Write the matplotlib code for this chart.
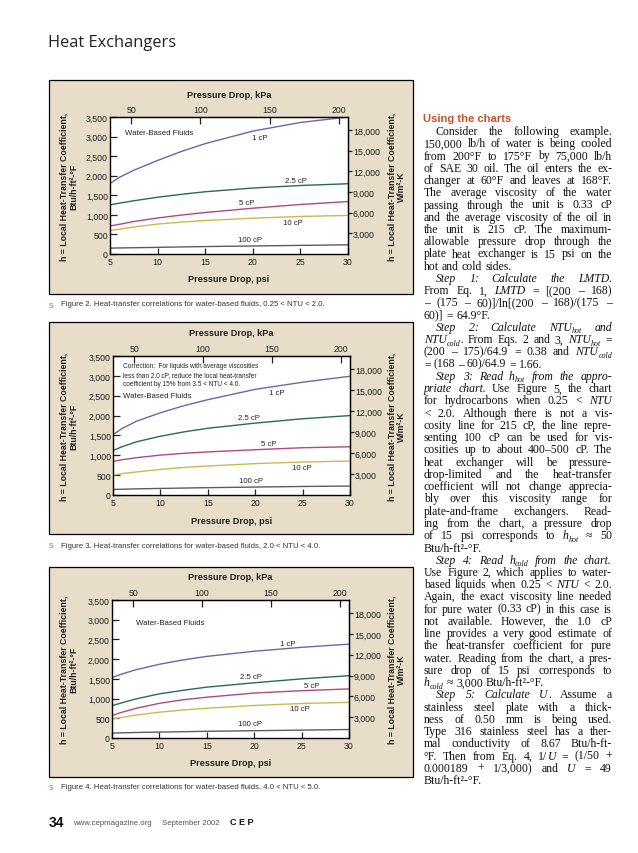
import matplotlib
matplotlib.use("Agg")
import matplotlib.pyplot as plt
from matplotlib.patches import Rectangle
from matplotlib.ticker import FuncFormatter

# ---- values (h in Btu/h-ft2-F vs pressure drop in psi) ----
PSI = [5, 6, 7.5, 10, 12.5, 15, 20, 25, 30]
VISC_LABELS = ["1 cP", "2.5 cP", "5 cP", "10 cP", "100 cP"]

# Figure 2: 0.25 < NTU < 2.0
FIG2_1CP = [1800, 1960, 2140, 2390, 2620, 2820, 3140, 3360, 3500]
FIG2_2_5CP = [1255, 1300, 1360, 1450, 1525, 1590, 1685, 1750, 1795]
FIG2_5CP = [715, 760, 830, 920, 995, 1060, 1170, 1265, 1340]
FIG2_10CP = [600, 635, 690, 765, 815, 855, 915, 960, 985]
FIG2_100CP = [150, 155, 160, 170, 180, 190, 205, 220, 235]

# Figure 3: 2.0 < NTU < 4.0
FIG3_1CP = [1520, 1680, 1860, 2070, 2250, 2400, 2660, 2840, 2990]
FIG3_2_5CP = [1120, 1220, 1340, 1480, 1590, 1680, 1810, 1920, 2000]
FIG3_5CP = [845, 890, 940, 1005, 1050, 1085, 1140, 1190, 1215]
FIG3_10CP = [500, 540, 580, 645, 695, 730, 790, 830, 855]
FIG3_100CP = [140, 145, 155, 165, 175, 185, 200, 215, 225]

# Figure 4: 4.0 < NTU < 5.0
FIG4_1CP = [1530, 1620, 1730, 1870, 1980, 2070, 2200, 2300, 2380]
FIG4_2_5CP = [820, 890, 990, 1120, 1210, 1290, 1400, 1500, 1580]
FIG4_5CP = [570, 650, 750, 880, 970, 1035, 1140, 1200, 1245]
FIG4_10CP = [485, 520, 580, 655, 710, 755, 825, 875, 905]
FIG4_100CP = [125, 130, 140, 150, 160, 170, 185, 200, 215]

PSI_TICKS = [5, 10, 15, 20, 25, 30]
BTU_TICKS = [0, 500, 1000, 1500, 2000, 2500, 3000, 3500]
KPA_TICKS = [50, 100, 150, 200]
WM2K_TICKS = [3000, 6000, 9000, 12000, 15000, 18000]

KPA_PER_PSI = 6.894757
WM2K_PER_BTU = 5.678263

CURVE_COLORS = ["#6b66a6", "#2b6b52", "#b04a7a", "#c9b94f", "#5c5c5c"]
BEIGE = "#e7ddc9"
SANS = ["Liberation Sans", "DejaVu Sans"]
NARROW = ["Liberation Sans Narrow", "Liberation Sans", "DejaVu Sans"]
SERIF = ["Liberation Serif", "DejaVu Serif"]

W, H = 638, 854
fig = plt.figure(figsize=(W / 100, H / 100), dpi=100)


def fx(px):
    return px / W


def fy(py):
    return 1 - py / H


comma = FuncFormatter(lambda v, _: f"{v:,.0f}")


def draw_chart(panel, box, curves, label_pos, caption, caption_y, notes):
    px0, py0, px1, py1 = panel
    fig.patches.append(Rectangle((fx(px0), fy(py1)), (px1 - px0) / W, (py1 - py0) / H,
                                 transform=fig.transFigure, facecolor=BEIGE,
                                 edgecolor="black", lw=0.9, zorder=-5))
    l, t, r, b = box
    ax = fig.add_axes([fx(l), fy(b), (r - l) / W, (b - t) / H])
    for vals, col in zip(curves, CURVE_COLORS):
        ax.plot(PSI, vals, color=col, lw=1.0)
    for name, (xx, yy) in zip(VISC_LABELS, label_pos):
        ax.text(xx, yy, name, fontsize=5.6, family=SANS, color="#222222",
                ha="center", va="center")
    for (xx, yy, txt, fs) in notes:
        ax.text(xx, yy, txt, fontsize=fs, family=NARROW, color="#222222",
                ha="left", va="center")

    ax.set_xlim(5, 30)
    ax.set_ylim(0, 3500)
    ax.set_xticks(PSI_TICKS)
    ax.set_yticks(BTU_TICKS)
    ax.yaxis.set_major_formatter(comma)
    ax.tick_params(axis="x", direction="in", length=4, width=0.9, pad=2.5,
                   labelsize=6.3, colors="#222222")
    ax.tick_params(axis="y", direction="in", length=5, width=0.9, pad=1.5,
                   labelsize=6.3, colors="#222222")
    for lab in ax.get_xticklabels() + ax.get_yticklabels():
        lab.set_family(SANS)
    for sp in ax.spines.values():
        sp.set_linewidth(1.0)

    top = ax.secondary_xaxis("top", functions=(lambda p: p * KPA_PER_PSI,
                                               lambda k: k / KPA_PER_PSI))
    top.set_xticks(KPA_TICKS)
    top.tick_params(direction="in", length=5, width=0.9, pad=2.5, labelsize=6.3,
                    colors="#222222")
    right = ax.secondary_yaxis("right", functions=(lambda v: v * WM2K_PER_BTU,
                                                   lambda v: v / WM2K_PER_BTU))
    right.set_yticks(WM2K_TICKS)
    right.yaxis.set_major_formatter(comma)
    right.tick_params(direction="out", length=3, width=0.9, pad=0.5, labelsize=6.3,
                      colors="#222222")
    for lab in top.get_xticklabels() + right.get_yticklabels():
        lab.set_family(SANS)

    cx = (l + r) / 2
    cy = (t + b) / 2
    fig.text(fx(cx), fy(t - 23), "Pressure Drop, kPa", fontsize=6.6, fontweight="bold",
             family=SANS, ha="center", va="center", color="#222222")
    fig.text(fx(cx), fy(b + 25), "Pressure Drop, psi", fontsize=6.6, fontweight="bold",
             family=SANS, ha="center", va="center", color="#222222")
    fig.text(fx(69), fy(cy), "h = Local Heat-Transfer Coefficient,\nBtu/h-ft²-°F",
             rotation=90, fontsize=6.3, fontweight="bold", family=SANS, ha="center",
             va="center", linespacing=1.1, color="#222222")
    fig.text(fx(397), fy(cy), "h = Local Heat-Transfer Coefficient,\nW/m²-K",
             rotation=90, fontsize=6.3, fontweight="bold", family=SANS, ha="center",
             va="center", linespacing=1.1, color="#222222")

    fig.text(fx(49), fy(caption_y), "s", fontsize=6.5, family=SANS, color="#d0702a",
             ha="left", va="center")
    fig.text(fx(61), fy(caption_y), caption, fontsize=5.6, family=NARROW,
             color="#333333", ha="left", va="center")
    return ax


draw_chart((49, 81, 413, 295), (110, 118, 348, 255),
           [FIG2_1CP, FIG2_2_5CP, FIG2_5CP, FIG2_10CP, FIG2_100CP],
           [(20.7, 2975), (24.5, 1890), (19.4, 1320), (24.2, 815), (19.7, 365)],
           "Figure 2. Heat-transfer correlations for water-based fluids, 0.25 < NTU < 2.0.",
           305, [(6.6, 3100, "Water-Based Fluids", 5.6)])

draw_chart((49, 323, 413, 535), (113, 357, 350, 496),
           [FIG3_1CP, FIG3_2_5CP, FIG3_5CP, FIG3_10CP, FIG3_100CP],
           [(22.3, 2577), (19.3, 1947), (21.4, 1301), (24.9, 688), (19.6, 369)],
           "Figure 3. Heat-transfer correlations for water-based fluids, 2.0 < NTU < 4.0.",
           546, [(6.1, 3265, "Correction:  For liquids with average viscosities", 4.7),
                 (6.1, 3030, "less than 2.0 cP, reduce the local heat-transfer", 4.7),
                 (6.1, 2803, "coefficient by 15% from 3.5 < NTU < 4.0.", 4.7),
                 (6.1, 2493, "Water-Based Fluids", 5.6)])

draw_chart((49, 568, 413, 778), (112, 601, 349, 739),
           [FIG4_1CP, FIG4_2_5CP, FIG4_5CP, FIG4_10CP, FIG4_100CP],
           [(23.5, 2398), (19.7, 1565), (26.1, 1329), (24.8, 740), (19.6, 362)],
           "Figure 4. Heat-transfer correlations for water-based fluids, 4.0 < NTU < 5.0.",
           788, [(7.5, 2928, "Water-Based Fluids", 5.6)])

# ---- page header and footer ----
fig.text(fx(48), fy(43), "Heat Exchangers", fontsize=11.8, family=["Open Sans", "DejaVu Sans"],
         color="#222222", ha="left", va="center")
fig.text(fx(49), fy(827), "34", fontsize=10, fontweight="bold", family=SANS,
         color="#111111", ha="left", va="baseline")
fig.text(fx(73), fy(825), "www.cepmagazine.org", fontsize=5.6, family=NARROW,
         color="#555555", ha="left", va="baseline")
fig.text(fx(162), fy(825), "September 2002", fontsize=5.6, family=NARROW,
         color="#555555", ha="left", va="baseline")
fig.text(fx(230), fy(825), "C E P", fontsize=6.5, fontweight="bold", family=SANS,
         color="#111111", ha="left", va="baseline")

# ---- right-hand text column ----
# markup: "~" toggles italics, "_{...}" is a subscript
COL_L, COL_R, INDENT = 424, 612, 12
BODY_FS = 8.5
LINE_H = 12.25
FIRST_BASE = 135
MIN_GAP = 1.8

BODY = [
    (1, 1, "Consider the following example."),
    (0, 1, "150,000 lb/h of water is being cooled"),
    (0, 1, "from 200°F to 175°F by 75,000 lb/h"),
    (0, 1, "of SAE 30 oil. The oil enters the ex-"),
    (0, 1, "changer at 60°F and leaves at 168°F."),
    (0, 1, "The average viscosity of the water"),
    (0, 1, "passing through the unit is 0.33 cP"),
    (0, 1, "and the average viscosity of the oil in"),
    (0, 1, "the unit is 215 cP. The maximum-"),
    (0, 1, "allowable pressure drop through the"),
    (0, 1, "plate heat exchanger is 15 psi on the"),
    (0, 0, "hot and cold sides."),
    (1, 1, "~Step ~1: ~Calculate ~the ~LMTD."),
    (0, 1, "From Eq. 1, ~LMTD = [(200 – 168)"),
    (0, 1, "– (175 – 60)]/ln[(200 – 168)/(175 –"),
    (0, 0, "60)] = 64.9°F."),
    (1, 1, "~Step ~2: ~Calculate ~NTU_{hot} ~and"),
    (0, 1, "~NTU_{cold}. From Eqs. 2 and 3, ~NTU_{hot} ="),
    (0, 1, "(200 – 175)/64.9 = 0.38 and ~NTU_{cold}"),
    (0, 0, "= (168 – 60)/64.9 = 1.66."),
    (1, 1, "~Step ~3: ~Read ~h_{hot} ~from ~the ~appro-"),
    (0, 1, "~priate ~chart. Use Figure 5, the chart"),
    (0, 1, "for hydrocarbons when 0.25 < ~NTU"),
    (0, 1, "< 2.0. Although there is not a vis-"),
    (0, 1, "cosity line for 215 cP, the line repre-"),
    (0, 1, "senting 100 cP can be used for vis-"),
    (0, 1, "cosities up to about 400–500 cP. The"),
    (0, 1, "heat exchanger will be pressure-"),
    (0, 1, "drop-limited and the heat-transfer"),
    (0, 1, "coefficient will not change apprecia-"),
    (0, 1, "bly over this viscosity range for"),
    (0, 1, "plate-and-frame exchangers. Read-"),
    (0, 1, "ing from the chart, a pressure drop"),
    (0, 1, "of 15 psi corresponds to ~h_{hot} ≈ 50"),
    (0, 0, "Btu/h-ft²-°F."),
    (1, 1, "~Step ~4: ~Read ~h_{cold} ~from ~the ~chart."),
    (0, 1, "Use Figure 2, which applies to water-"),
    (0, 1, "based liquids when 0.25 < ~NTU < 2.0."),
    (0, 1, "Again, the exact viscosity line needed"),
    (0, 1, "for pure water (0.33 cP) in this case is"),
    (0, 1, "not available. However, the 1.0 cP"),
    (0, 1, "line provides a very good estimate of"),
    (0, 1, "the heat-transfer coefficient for pure"),
    (0, 1, "water. Reading from the chart, a pres-"),
    (0, 1, "sure drop of 15 psi corresponds to"),
    (0, 0, "~h_{cold} ≈ 3,000 Btu/h-ft²-°F."),
    (1, 1, "~Step ~5: ~Calculate ~U~. Assume a"),
    (0, 1, "stainless steel plate with a thick-"),
    (0, 1, "ness of 0.50 mm is being used."),
    (0, 1, "Type 316 stainless steel has a ther-"),
    (0, 1, "mal conductivity of 8.67 Btu/h-ft-"),
    (0, 1, "°F. Then from Eq. 4, 1/~U = (1/50 +"),
    (0, 1, "0.000189 + 1/3,000) and ~U = 49"),
    (0, 0, "Btu/h-ft²-°F."),
]


def parse_word(word):
    segs, cur, ital, sub, i = [], "", False, False, 0
    while i < len(word):
        if word[i] == "~" or word.startswith("_{", i) or (word[i] == "}" and sub):
            if cur:
                segs.append((cur, ital, sub))
                cur = ""
            if word[i] == "~":
                ital = not ital
                i += 1
            elif word[i] == "}":
                sub = False
                i += 1
            else:
                sub = True
                i += 2
            continue
        cur += word[i]
        i += 1
    if cur:
        segs.append((cur, ital, sub))
    return segs


fig.text(fx(COL_L - 1), fy(FIRST_BASE - 13), "Using the charts", fontsize=8.1,
         fontweight="bold", family=SANS, color="#c4522a", ha="left", va="baseline")

renderer = fig.canvas.get_renderer()
space_px = 0.25 * BODY_FS * 100 / 72
for i, (indent, justify, line) in enumerate(BODY):
    base = FIRST_BASE + i * LINE_H
    x_start = COL_L + (INDENT if indent else 0)
    words = []
    for word in line.split(" "):
        parts, off = [], 0.0
        for txt, ital, sub in parse_word(word):
            t = fig.text(0, fy(base + (2.5 if sub else 0)), txt,
                         fontsize=BODY_FS * (0.68 if sub else 1.0), family=SERIF,
                         style="italic" if ital else "normal", color="#111111",
                         ha="left", va="baseline")
            parts.append((t, off))
            off += t.get_window_extent(renderer).width
        words.append((parts, off))
    total = sum(w for _, w in words)
    if justify and len(words) > 1:
        gap = max(MIN_GAP, (COL_R - x_start - total) / (len(words) - 1))
    else:
        gap = space_px
    x = x_start
    for parts, w in words:
        for t, off in parts:
            t.set_x(fx(x + off))
        x += w + gap

fig.savefig("out.png", dpi=100, facecolor="white")
